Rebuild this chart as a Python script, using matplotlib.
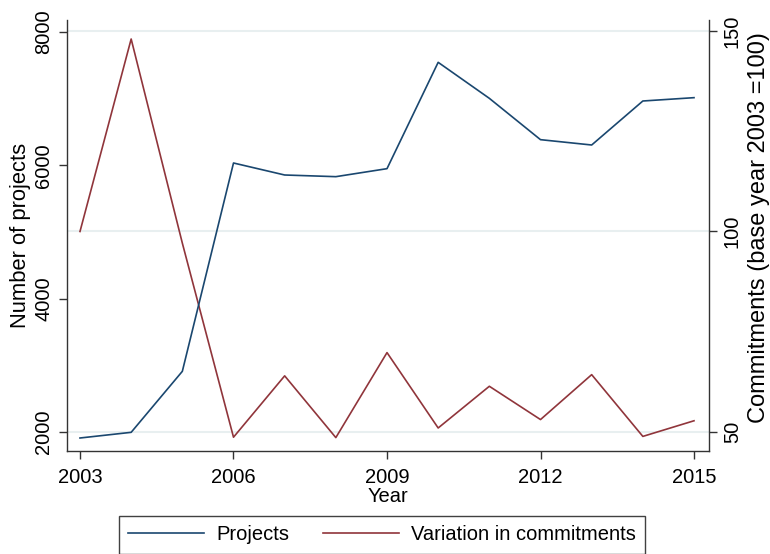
import matplotlib
matplotlib.use("Agg")
import matplotlib.pyplot as plt
from matplotlib.lines import Line2D

plt.rcParams['font.family'] = ['Liberation Sans', 'DejaVu Sans']

# Data
years = [2003, 2004, 2005, 2006, 2007, 2008, 2009, 2010, 2011, 2012, 2013, 2014, 2015]
projects = [1910, 1995, 2910, 6035, 5855, 5830, 5950, 7545, 7005, 6385, 6305, 6965, 7015]
commitments = [100.0, 148.0, 97.1, 48.7, 64.0, 48.6, 69.8, 51.0, 61.4, 53.1, 64.3, 48.9, 52.8]

x_ticks = [2003, 2006, 2009, 2012, 2015]
left_ticks = [2000, 4000, 6000, 8000]
right_ticks = [50, 100, 150]

BLUE = '#1a476f'
RED = '#90353b'
GRID = '#e8eff0'
AXCOL = '#333333'
FS = 14.5

W, H = 770, 554
fig = plt.figure(figsize=(W / 100, H / 100), dpi=100)
fig.patch.set_facecolor('white')

# Main axes carries the commitments scale (right side) and the grid
ax_c = fig.add_axes([67 / W, 1 - 451 / H, 642 / W, 431 / H])
ax_p = ax_c.twinx()

ax_c.yaxis.tick_right()
ax_p.yaxis.tick_left()

ax_c.set_xlim(2002.746, 2015.293)
ax_c.set_ylim(45.26, 152.74)
ax_p.set_ylim(1715, 8180)

ax_c.grid(axis='y', color=GRID, linewidth=1.5)
ax_c.set_axisbelow(True)
ax_c.set_yticks(right_ticks)
ax_p.set_yticks(left_ticks)
ax_c.set_xticks(x_ticks)

l_c, = ax_c.plot(years, commitments, color=RED, linewidth=1.2, zorder=3)
l_p, = ax_p.plot(years, projects, color=BLUE, linewidth=1.2, zorder=3)

for a in (ax_c, ax_p):
    a.spines['top'].set_visible(False)
    for s in ('left', 'right', 'bottom'):
        a.spines[s].set_color(AXCOL)
        a.spines[s].set_linewidth(1.0)
    a.patch.set_visible(False)

ax_p.spines['bottom'].set_visible(False)
ax_c.spines['left'].set_visible(False)
ax_p.spines['right'].set_visible(False)

ax_c.tick_params(axis='x', direction='out', length=6, width=1, color=AXCOL,
                 labelsize=FS, pad=6)
ax_c.tick_params(axis='y', direction='out', length=6, width=1, color=AXCOL,
                 labelsize=FS, pad=4, labelrotation=90, left=False, labelleft=False,
                 right=True, labelright=True)
ax_p.tick_params(axis='y', direction='out', length=6, width=1, color=AXCOL,
                 labelsize=FS, pad=4, labelrotation=90, right=False, labelright=False,
                 left=True, labelleft=True)
for lab in ax_c.get_yticklabels() + ax_p.get_yticklabels():
    lab.set_va('center')

# Axis titles
fig.text(21 / W, 1 - 235 / H, 'Number of projects', rotation=90,
         ha='center', va='center', fontsize=15.8)
fig.text(759 / W, 1 - 228 / H, 'Commitments (base year 2003 =100)', rotation=90,
         ha='center', va='center', fontsize=17)
fig.text(388 / W, 1 - 502 / H, 'Year', ha='center', va='baseline', fontsize=FS)

# Legend below the plot
handles = [Line2D([], [], color=BLUE, linewidth=1.2),
           Line2D([], [], color=RED, linewidth=1.2)]
leg = fig.legend(handles, ['Projects', 'Variation in commitments'], ncol=2,
                 loc='center', bbox_to_anchor=(382 / W, 1 - 535 / H),
                 fontsize=FS, frameon=True, fancybox=False, handlelength=3.75,
                 handletextpad=0.6, columnspacing=1.7, borderpad=0.45)
frame = leg.get_frame()
frame.set_edgecolor('#111111')
frame.set_linewidth(1.0)
frame.set_facecolor('white')

fig.savefig('out.png', dpi=100)
